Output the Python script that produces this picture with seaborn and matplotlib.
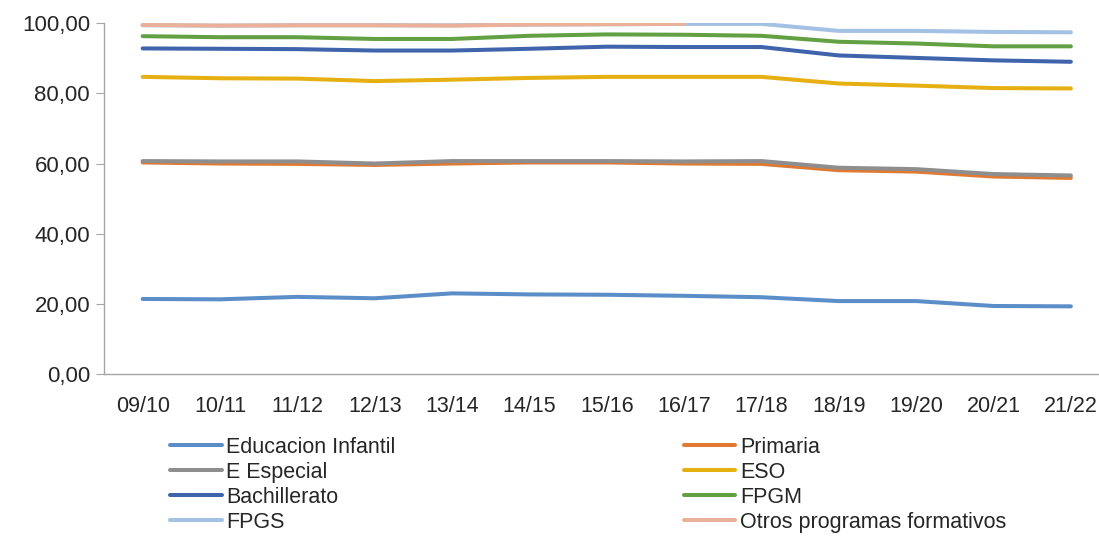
import numpy as np
import pandas as pd
import matplotlib
matplotlib.use("Agg")
import matplotlib.pyplot as plt
import matplotlib.ticker as mtick
import seaborn as sns

years = ["09/10", "10/11", "11/12", "12/13", "13/14", "14/15", "15/16",
         "16/17", "17/18", "18/19", "19/20", "20/21", "21/22"]

infantil = [21.4, 21.3, 22.0, 21.6, 23.0, 22.7, 22.6, 22.3, 21.9, 20.8, 20.8, 19.4, 19.3]
primaria = [60.3, 60.0, 59.9, 59.6, 60.0, 60.3, 60.3, 60.0, 59.9, 58.1, 57.7, 56.3, 55.9]
especial = [60.7, 60.6, 60.6, 60.0, 60.7, 60.7, 60.7, 60.6, 60.7, 58.8, 58.4, 57.0, 56.6]
eso = [84.7, 84.3, 84.2, 83.5, 83.9, 84.4, 84.7, 84.7, 84.7, 82.8, 82.2, 81.5, 81.4]
bachillerato = [92.8, 92.7, 92.6, 92.2, 92.2, 92.7, 93.3, 93.2, 93.2, 90.8, 90.1, 89.4, 89.0]
fpgm = [96.3, 96.0, 96.0, 95.5, 95.5, 96.4, 96.8, 96.7, 96.4, 94.7, 94.2, 93.4, 93.4]
fpgs = [99.4, 99.3, 99.4, 99.4, 99.4, 99.6, 99.7, 99.8, 99.8, 97.8, 97.8, 97.5, 97.4]
otros = [99.5, 99.3, 99.4, 99.4, 99.3, 99.6, 99.7, 99.8, np.nan, np.nan, np.nan, np.nan, np.nan]

series = {
    "Educacion Infantil": infantil,
    "Primaria": primaria,
    "E Especial": especial,
    "ESO": eso,
    "Bachillerato": bachillerato,
    "FPGM": fpgm,
    "FPGS": fpgs,
    "Otros programas formativos": otros,
}
colors = {
    "Educacion Infantil": "#5B8EC9",
    "Primaria": "#E07A32",
    "E Especial": "#8E8E8E",
    "ESO": "#E6B012",
    "Bachillerato": "#3F64AB",
    "FPGM": "#62A043",
    "FPGS": "#A3C1E3",
    "Otros programas formativos": "#EBB09A",
}

df = pd.DataFrame(
    [(y, name, v) for name, vals in series.items() for y, v in zip(years, vals)],
    columns=["curso", "etapa", "valor"],
).dropna()

sns.set_style("white")
plt.rcParams["font.family"] = ["Liberation Sans", "DejaVu Sans"]

fig = plt.figure(figsize=(10.99, 5.39), dpi=100)
ax = fig.add_axes([0.0946, 0.306, 0.915, 0.651])

sns.lineplot(data=df, x="curso", y="valor", hue="etapa",
             hue_order=list(series.keys()), palette=colors,
             linewidth=2.9, sort=False, ax=ax, legend=False)

ax.set_xlim(-0.5, len(years) - 0.5)
ax.set_ylim(0, 100)
ax.yaxis.set_major_locator(mtick.MultipleLocator(20))
ax.yaxis.set_major_formatter(mtick.FuncFormatter(lambda v, p: f"{v:.2f}".replace(".", ",")))
ax.set_xlabel("")
ax.set_ylabel("")
for side in ["top", "right"]:
    ax.spines[side].set_visible(False)
for side in ["left", "bottom"]:
    ax.spines[side].set_color("#A6A6A6")
    ax.spines[side].set_linewidth(1.0)
ax.tick_params(axis="y", length=6, color="#A6A6A6", labelsize=16, pad=4, left=True)
ax.tick_params(axis="x", length=0, labelsize=15.5, pad=16)

# legend filled row by row, like the original
handles = {name: plt.Line2D([], [], color=c, linewidth=2.9) for name, c in colors.items()}
order = ["Educacion Infantil", "E Especial", "Bachillerato", "FPGS",
         "Primaria", "ESO", "FPGM", "Otros programas formativos"]
fig.legend([handles[n] for n in order], order, ncol=2, loc="upper left",
           bbox_to_anchor=(170 / 1099, 1 - 437 / 539), frameon=False,
           fontsize=15.5, handlelength=2.4, handletextpad=0.2,
           labelspacing=0.18, columnspacing=13.4, borderpad=0, borderaxespad=0)

fig.savefig("out.png", dpi=100)
